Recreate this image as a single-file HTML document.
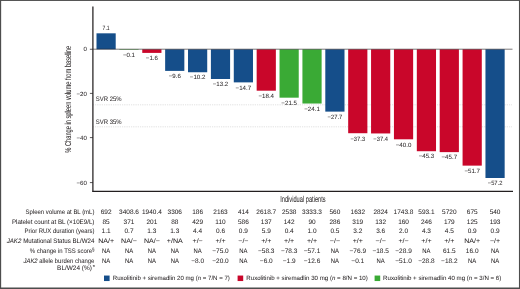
<!DOCTYPE html>
<html><head><meta charset="utf-8"><title>Figure</title>
<style>
html,body{margin:0;padding:0;background:#fff;}
body{width:520px;height:289px;overflow:hidden;font-family:"Liberation Sans",sans-serif;}
svg{display:block;position:absolute;left:0;top:0;will-change:transform;}
text{font-family:"Liberation Sans",sans-serif;fill:#231f20;stroke:#231f20;stroke-width:0.03px;text-rendering:geometricPrecision;}
</style></head><body>
<svg width="520" height="289" viewBox="0 0 520 289">
<rect x="0" y="0" width="520" height="289" fill="#fff"/>

<rect x="0" y="0" width="520" height="0.95" fill="#4d4d4d"/>
<rect x="0" y="0" width="1.15" height="289" fill="#4d4d4d"/>
<rect x="518.95" y="0" width="1.05" height="289" fill="#4d4d4d"/>
<rect x="0" y="287.5" width="520" height="1.5" fill="#4d4d4d"/>
<line x1="93.3" y1="104.80" x2="512.5" y2="104.80" stroke="#b8b8b8" stroke-width="0.6" stroke-dasharray="0.7 1.1"/>
<line x1="93.3" y1="126.80" x2="512.5" y2="126.80" stroke="#b8b8b8" stroke-width="0.6" stroke-dasharray="0.7 1.1"/>
<rect x="96.50" y="33.32" width="19.20" height="15.97" fill="#154e8a"/>
<rect x="119.38" y="49.30" width="19.20" height="0.45" fill="#3aaa35"/>
<rect x="142.26" y="49.30" width="19.20" height="3.60" fill="#c9062a"/>
<rect x="165.14" y="49.30" width="19.20" height="21.60" fill="#154e8a"/>
<rect x="188.02" y="49.30" width="19.20" height="22.95" fill="#154e8a"/>
<rect x="210.90" y="49.30" width="19.20" height="29.70" fill="#154e8a"/>
<rect x="233.78" y="49.30" width="19.20" height="33.07" fill="#154e8a"/>
<rect x="256.66" y="49.30" width="19.20" height="41.40" fill="#c9062a"/>
<rect x="279.54" y="49.30" width="19.20" height="48.38" fill="#3aaa35"/>
<rect x="302.42" y="49.30" width="19.20" height="54.23" fill="#3aaa35"/>
<rect x="325.30" y="49.30" width="19.20" height="62.32" fill="#154e8a"/>
<rect x="348.18" y="49.30" width="19.20" height="83.92" fill="#c9062a"/>
<rect x="371.06" y="49.30" width="19.20" height="84.15" fill="#c9062a"/>
<rect x="393.94" y="49.30" width="19.20" height="90.00" fill="#c9062a"/>
<rect x="416.82" y="49.30" width="19.20" height="101.92" fill="#c9062a"/>
<rect x="439.70" y="49.30" width="19.20" height="102.83" fill="#c9062a"/>
<rect x="462.58" y="49.30" width="19.20" height="116.33" fill="#c9062a"/>
<rect x="485.46" y="49.30" width="19.20" height="128.70" fill="#154e8a"/>
<line x1="92.9" y1="6.5" x2="92.9" y2="192" stroke="#231f20" stroke-width="1.25"/>
<line x1="92.5" y1="191.45" x2="513" y2="191.45" stroke="#231f20" stroke-width="1.25"/>
<line x1="92.9" y1="49.20" x2="512.5" y2="49.20" stroke="#231f20" stroke-width="0.6"/>
<line x1="89.9" y1="49.25" x2="92.9" y2="49.25" stroke="#231f20" stroke-width="0.75"/>
<line x1="89.9" y1="93.40" x2="92.9" y2="93.40" stroke="#231f20" stroke-width="0.75"/>
<line x1="89.9" y1="137.60" x2="92.9" y2="137.60" stroke="#231f20" stroke-width="0.75"/>
<line x1="89.9" y1="182.60" x2="92.9" y2="182.60" stroke="#231f20" stroke-width="0.75"/>
<rect x="104.00" y="275.55" width="5.6" height="5.5" fill="#154e8a"/>
<rect x="237.60" y="275.55" width="5.6" height="5.5" fill="#c9062a"/>
<rect x="374.60" y="275.55" width="5.6" height="5.5" fill="#3aaa35"/>
<g>
<text transform="translate(86.90 51.15) scale(1.0000 1)" font-size="6.10" text-anchor="end">0</text>
<text transform="translate(86.90 95.70) scale(1.0000 1)" font-size="6.10" text-anchor="end">−20</text>
<text transform="translate(86.90 139.90) scale(1.0000 1)" font-size="6.10" text-anchor="end">−40</text>
<text transform="translate(86.90 184.90) scale(1.0000 1)" font-size="6.10" text-anchor="end">−60</text>
<text transform="translate(106.10 30.22) scale(0.8200 1)" font-size="6.15" text-anchor="middle">7.1</text>
<text transform="translate(128.98 56.73) scale(1.0000 1)" font-size="6.15" text-anchor="middle">−0.1</text>
<text transform="translate(151.86 60.10) scale(1.0000 1)" font-size="6.15" text-anchor="middle">−1.6</text>
<text transform="translate(174.74 78.10) scale(1.0000 1)" font-size="6.15" text-anchor="middle">−9.6</text>
<text transform="translate(197.62 79.45) scale(1.0000 1)" font-size="6.15" text-anchor="middle">−10.2</text>
<text transform="translate(220.50 86.20) scale(1.0000 1)" font-size="6.15" text-anchor="middle">−13.2</text>
<text transform="translate(243.38 89.58) scale(1.0000 1)" font-size="6.15" text-anchor="middle">−14.7</text>
<text transform="translate(266.26 97.90) scale(1.0000 1)" font-size="6.15" text-anchor="middle">−18.4</text>
<text transform="translate(289.14 104.88) scale(1.0000 1)" font-size="6.15" text-anchor="middle">−21.5</text>
<text transform="translate(312.02 110.73) scale(1.0000 1)" font-size="6.15" text-anchor="middle">−24.1</text>
<text transform="translate(334.90 118.83) scale(0.9400 1)" font-size="6.15" text-anchor="middle">−27.7</text>
<text transform="translate(357.78 140.82) scale(0.9400 1)" font-size="6.15" text-anchor="middle">−37.3</text>
<text transform="translate(380.66 140.65) scale(0.9400 1)" font-size="6.15" text-anchor="middle">−37.4</text>
<text transform="translate(403.54 146.50) scale(1.0000 1)" font-size="6.15" text-anchor="middle">−40.0</text>
<text transform="translate(426.42 158.42) scale(1.0000 1)" font-size="6.15" text-anchor="middle">−45.3</text>
<text transform="translate(449.30 159.32) scale(1.0000 1)" font-size="6.15" text-anchor="middle">−45.7</text>
<text transform="translate(472.18 172.82) scale(1.0000 1)" font-size="6.15" text-anchor="middle">−51.7</text>
<text transform="translate(495.06 185.20) scale(0.9400 1)" font-size="6.15" text-anchor="middle">−57.2</text>
<text transform="translate(95.80 101.10) scale(0.9155 1)" font-size="6.50" text-anchor="start">SVR 25%</text>
<text transform="translate(95.80 123.80) scale(0.9155 1)" font-size="6.50" text-anchor="start">SVR 35%</text>
<text transform="translate(302.9 201.5) scale(0.661 1)" font-size="8.6" stroke="#231f20" stroke-width="0.34" text-anchor="middle">Individual patients</text>
<text transform="translate(70.8 99.3) rotate(-90) scale(0.664 1)" font-size="8.6" stroke="#231f20" stroke-width="0.34" text-anchor="middle">% Change in spleen volume from baseline</text>
<text transform="translate(94.40 213.65) scale(0.9185 1)" font-size="6.50" text-anchor="end">Spleen volume at BL (mL)</text>
<text transform="translate(106.10 213.65) scale(0.9985 1)" font-size="6.50" text-anchor="middle">692</text>
<text transform="translate(128.98 213.65) scale(0.9985 1)" font-size="6.50" text-anchor="middle">3408.6</text>
<text transform="translate(151.86 213.65) scale(0.9985 1)" font-size="6.50" text-anchor="middle">1940.4</text>
<text transform="translate(174.74 213.65) scale(0.9985 1)" font-size="6.50" text-anchor="middle">3306</text>
<text transform="translate(197.62 213.65) scale(0.9985 1)" font-size="6.50" text-anchor="middle">186</text>
<text transform="translate(220.50 213.65) scale(0.9985 1)" font-size="6.50" text-anchor="middle">2163</text>
<text transform="translate(243.38 213.65) scale(0.9985 1)" font-size="6.50" text-anchor="middle">414</text>
<text transform="translate(266.26 213.65) scale(0.9985 1)" font-size="6.50" text-anchor="middle">2618.7</text>
<text transform="translate(289.14 213.65) scale(0.9985 1)" font-size="6.50" text-anchor="middle">2538</text>
<text transform="translate(312.02 213.65) scale(0.9985 1)" font-size="6.50" text-anchor="middle">3333.3</text>
<text transform="translate(334.90 213.65) scale(0.9985 1)" font-size="6.50" text-anchor="middle">560</text>
<text transform="translate(357.78 213.65) scale(0.9985 1)" font-size="6.50" text-anchor="middle">1632</text>
<text transform="translate(380.66 213.65) scale(0.9985 1)" font-size="6.50" text-anchor="middle">2824</text>
<text transform="translate(403.54 213.65) scale(0.9985 1)" font-size="6.50" text-anchor="middle">1743.8</text>
<text transform="translate(426.42 213.65) scale(0.9985 1)" font-size="6.50" text-anchor="middle">593.1</text>
<text transform="translate(449.30 213.65) scale(0.9985 1)" font-size="6.50" text-anchor="middle">5720</text>
<text transform="translate(472.18 213.65) scale(0.9985 1)" font-size="6.50" text-anchor="middle">675</text>
<text transform="translate(495.06 213.65) scale(0.9985 1)" font-size="6.50" text-anchor="middle">540</text>
<text transform="translate(94.40 223.55) scale(0.9520 1)" font-size="6.50" text-anchor="end">Platelet count at BL (×10E9/L)</text>
<text transform="translate(106.10 223.55) scale(0.9985 1)" font-size="6.50" text-anchor="middle">85</text>
<text transform="translate(128.98 223.55) scale(0.9985 1)" font-size="6.50" text-anchor="middle">371</text>
<text transform="translate(151.86 223.55) scale(0.9985 1)" font-size="6.50" text-anchor="middle">201</text>
<text transform="translate(174.74 223.55) scale(0.9985 1)" font-size="6.50" text-anchor="middle">88</text>
<text transform="translate(197.62 223.55) scale(0.9985 1)" font-size="6.50" text-anchor="middle">429</text>
<text transform="translate(220.50 223.55) scale(0.9985 1)" font-size="6.50" text-anchor="middle">110</text>
<text transform="translate(243.38 223.55) scale(0.9985 1)" font-size="6.50" text-anchor="middle">586</text>
<text transform="translate(266.26 223.55) scale(0.9985 1)" font-size="6.50" text-anchor="middle">137</text>
<text transform="translate(289.14 223.55) scale(0.9985 1)" font-size="6.50" text-anchor="middle">142</text>
<text transform="translate(312.02 223.55) scale(0.9985 1)" font-size="6.50" text-anchor="middle">90</text>
<text transform="translate(334.90 223.55) scale(0.9985 1)" font-size="6.50" text-anchor="middle">286</text>
<text transform="translate(357.78 223.55) scale(0.9985 1)" font-size="6.50" text-anchor="middle">319</text>
<text transform="translate(380.66 223.55) scale(0.9985 1)" font-size="6.50" text-anchor="middle">132</text>
<text transform="translate(403.54 223.55) scale(0.9985 1)" font-size="6.50" text-anchor="middle">160</text>
<text transform="translate(426.42 223.55) scale(0.9985 1)" font-size="6.50" text-anchor="middle">246</text>
<text transform="translate(449.30 223.55) scale(0.9985 1)" font-size="6.50" text-anchor="middle">179</text>
<text transform="translate(472.18 223.55) scale(0.9985 1)" font-size="6.50" text-anchor="middle">125</text>
<text transform="translate(495.06 223.55) scale(0.9985 1)" font-size="6.50" text-anchor="middle">193</text>
<text transform="translate(94.40 233.40) scale(0.9115 1)" font-size="6.50" text-anchor="end">Prior RUX duration (years)</text>
<text transform="translate(106.10 233.40) scale(0.9985 1)" font-size="6.50" text-anchor="middle">1.1</text>
<text transform="translate(128.98 233.40) scale(0.9985 1)" font-size="6.50" text-anchor="middle">0.7</text>
<text transform="translate(151.86 233.40) scale(0.9985 1)" font-size="6.50" text-anchor="middle">1.3</text>
<text transform="translate(174.74 233.40) scale(0.9985 1)" font-size="6.50" text-anchor="middle">1.3</text>
<text transform="translate(197.62 233.40) scale(0.9985 1)" font-size="6.50" text-anchor="middle">4.4</text>
<text transform="translate(220.50 233.40) scale(0.9985 1)" font-size="6.50" text-anchor="middle">0.6</text>
<text transform="translate(243.38 233.40) scale(0.9985 1)" font-size="6.50" text-anchor="middle">0.9</text>
<text transform="translate(266.26 233.40) scale(0.9985 1)" font-size="6.50" text-anchor="middle">5.9</text>
<text transform="translate(289.14 233.40) scale(0.9985 1)" font-size="6.50" text-anchor="middle">0.4</text>
<text transform="translate(312.02 233.40) scale(0.9985 1)" font-size="6.50" text-anchor="middle">1.0</text>
<text transform="translate(334.90 233.40) scale(0.9985 1)" font-size="6.50" text-anchor="middle">0.5</text>
<text transform="translate(357.78 233.40) scale(0.9985 1)" font-size="6.50" text-anchor="middle">3.2</text>
<text transform="translate(380.66 233.40) scale(0.9985 1)" font-size="6.50" text-anchor="middle">3.6</text>
<text transform="translate(403.54 233.40) scale(0.9985 1)" font-size="6.50" text-anchor="middle">2.0</text>
<text transform="translate(426.42 233.40) scale(0.9985 1)" font-size="6.50" text-anchor="middle">4.3</text>
<text transform="translate(449.30 233.40) scale(0.9985 1)" font-size="6.50" text-anchor="middle">4.5</text>
<text transform="translate(472.18 233.40) scale(0.9985 1)" font-size="6.50" text-anchor="middle">0.9</text>
<text transform="translate(495.06 233.40) scale(0.9985 1)" font-size="6.50" text-anchor="middle">0.9</text>
<text transform="translate(94.40 243.30) scale(0.9482 1)" font-size="6.50" text-anchor="end"><tspan font-style="italic">JAK2</tspan> Mutational Status BL/W24</text>
<text transform="translate(106.10 243.30) scale(1.0892 1)" font-size="6.50" text-anchor="middle">NA/+</text>
<text transform="translate(128.98 243.30) scale(1.0892 1)" font-size="6.50" text-anchor="middle">NA/−</text>
<text transform="translate(151.86 243.30) scale(1.0892 1)" font-size="6.50" text-anchor="middle">NA/−</text>
<text transform="translate(174.74 243.30) scale(1.0892 1)" font-size="6.50" text-anchor="middle">+/NA</text>
<text transform="translate(197.62 243.30) scale(1.0892 1)" font-size="6.50" text-anchor="middle">+/−</text>
<text transform="translate(220.50 243.30) scale(1.0892 1)" font-size="6.50" text-anchor="middle">+/+</text>
<text transform="translate(243.38 243.30) scale(1.0892 1)" font-size="6.50" text-anchor="middle">−/−</text>
<text transform="translate(266.26 243.30) scale(1.0892 1)" font-size="6.50" text-anchor="middle">+/+</text>
<text transform="translate(289.14 243.30) scale(1.0892 1)" font-size="6.50" text-anchor="middle">+/+</text>
<text transform="translate(312.02 243.30) scale(1.0892 1)" font-size="6.50" text-anchor="middle">+/+</text>
<text transform="translate(334.90 243.30) scale(1.0892 1)" font-size="6.50" text-anchor="middle">−/−</text>
<text transform="translate(357.78 243.30) scale(1.0892 1)" font-size="6.50" text-anchor="middle">+/+</text>
<text transform="translate(380.66 243.30) scale(1.0892 1)" font-size="6.50" text-anchor="middle">−/−</text>
<text transform="translate(403.54 243.30) scale(1.0892 1)" font-size="6.50" text-anchor="middle">+/−</text>
<text transform="translate(426.42 243.30) scale(1.0892 1)" font-size="6.50" text-anchor="middle">+/+</text>
<text transform="translate(449.30 243.30) scale(1.0892 1)" font-size="6.50" text-anchor="middle">+/+</text>
<text transform="translate(472.18 243.30) scale(1.0892 1)" font-size="6.50" text-anchor="middle">NA/+</text>
<text transform="translate(495.06 243.30) scale(1.0892 1)" font-size="6.50" text-anchor="middle">−/+</text>
<text transform="translate(92.10 253.30) scale(0.9188 1)" font-size="6.50" text-anchor="end">% change in TSS score</text>
<text transform="translate(106.10 253.30) scale(0.9077 1)" font-size="6.50" text-anchor="middle">NA</text>
<text transform="translate(128.98 253.30) scale(0.9077 1)" font-size="6.50" text-anchor="middle">NA</text>
<text transform="translate(151.86 253.30) scale(0.9077 1)" font-size="6.50" text-anchor="middle">NA</text>
<text transform="translate(174.74 253.30) scale(0.9077 1)" font-size="6.50" text-anchor="middle">NA</text>
<text transform="translate(197.62 253.30) scale(0.9077 1)" font-size="6.50" text-anchor="middle">NA</text>
<text transform="translate(220.50 253.30) scale(0.9985 1)" font-size="6.50" text-anchor="middle">−75.0</text>
<text transform="translate(243.38 253.30) scale(0.9077 1)" font-size="6.50" text-anchor="middle">NA</text>
<text transform="translate(266.26 253.30) scale(0.9985 1)" font-size="6.50" text-anchor="middle">−58.3</text>
<text transform="translate(289.14 253.30) scale(0.9985 1)" font-size="6.50" text-anchor="middle">−78.3</text>
<text transform="translate(312.02 253.30) scale(0.9985 1)" font-size="6.50" text-anchor="middle">−57.1</text>
<text transform="translate(334.90 253.30) scale(0.9077 1)" font-size="6.50" text-anchor="middle">NA</text>
<text transform="translate(357.78 253.30) scale(0.9985 1)" font-size="6.50" text-anchor="middle">−76.9</text>
<text transform="translate(380.66 253.30) scale(0.9985 1)" font-size="6.50" text-anchor="middle">−18.5</text>
<text transform="translate(403.54 253.30) scale(0.9985 1)" font-size="6.50" text-anchor="middle">−28.9</text>
<text transform="translate(426.42 253.30) scale(0.9077 1)" font-size="6.50" text-anchor="middle">NA</text>
<text transform="translate(449.30 253.30) scale(0.9985 1)" font-size="6.50" text-anchor="middle">61.5</text>
<text transform="translate(472.18 253.30) scale(0.9985 1)" font-size="6.50" text-anchor="middle">16.0</text>
<text transform="translate(495.06 253.30) scale(0.9077 1)" font-size="6.50" text-anchor="middle">NA</text>
<text transform="translate(94.40 262.70) scale(0.9125 1)" font-size="6.50" text-anchor="end"><tspan font-style="italic">JAK2</tspan> allele burden change</text>
<text transform="translate(106.10 262.70) scale(0.9077 1)" font-size="6.50" text-anchor="middle">NA</text>
<text transform="translate(128.98 262.70) scale(0.9077 1)" font-size="6.50" text-anchor="middle">NA</text>
<text transform="translate(151.86 262.70) scale(0.9077 1)" font-size="6.50" text-anchor="middle">NA</text>
<text transform="translate(174.74 262.70) scale(0.9077 1)" font-size="6.50" text-anchor="middle">NA</text>
<text transform="translate(197.62 262.70) scale(0.9985 1)" font-size="6.50" text-anchor="middle">−8.0</text>
<text transform="translate(220.50 262.70) scale(0.9985 1)" font-size="6.50" text-anchor="middle">−20.0</text>
<text transform="translate(243.38 262.70) scale(0.9077 1)" font-size="6.50" text-anchor="middle">NA</text>
<text transform="translate(266.26 262.70) scale(0.9985 1)" font-size="6.50" text-anchor="middle">−6.0</text>
<text transform="translate(289.14 262.70) scale(0.9985 1)" font-size="6.50" text-anchor="middle">−1.9</text>
<text transform="translate(312.02 262.70) scale(0.9985 1)" font-size="6.50" text-anchor="middle">−12.6</text>
<text transform="translate(334.90 262.70) scale(0.9077 1)" font-size="6.50" text-anchor="middle">NA</text>
<text transform="translate(357.78 262.70) scale(0.9985 1)" font-size="6.50" text-anchor="middle">−0.1</text>
<text transform="translate(380.66 262.70) scale(0.9077 1)" font-size="6.50" text-anchor="middle">NA</text>
<text transform="translate(403.54 262.70) scale(0.9985 1)" font-size="6.50" text-anchor="middle">−51.0</text>
<text transform="translate(426.42 262.70) scale(0.9985 1)" font-size="6.50" text-anchor="middle">−28.8</text>
<text transform="translate(449.30 262.70) scale(0.9985 1)" font-size="6.50" text-anchor="middle">−18.2</text>
<text transform="translate(472.18 262.70) scale(0.9077 1)" font-size="6.50" text-anchor="middle">NA</text>
<text transform="translate(495.06 262.70) scale(0.9077 1)" font-size="6.50" text-anchor="middle">NA</text>
<text transform="translate(91.90 270.30) scale(0.9932 1)" font-size="6.50" text-anchor="end">BL/W24 (%)</text>
<text transform="translate(92.10 251.10) scale(1.0000 1)" font-size="4.60" text-anchor="start" stroke-width="0.15">§</text>
<text transform="translate(92.70 269.10) scale(1.0000 1)" font-size="5.80" text-anchor="start" stroke-width="0.15">*</text>
<text transform="translate(112.80 280.35) scale(0.9815 1)" font-size="6.20" text-anchor="start" stroke-width="0.04">Ruxolitinib + siremadlin 20 mg (<tspan font-style="italic">n</tspan> = 7/N = 7)</text>
<text transform="translate(246.30 280.35) scale(0.9906 1)" font-size="6.20" text-anchor="start" stroke-width="0.04">Ruxolitinib + siremadlin 30 mg (<tspan font-style="italic">n</tspan> = 8/N = 10)</text>
<text transform="translate(383.10 280.35) scale(0.9916 1)" font-size="6.20" text-anchor="start" stroke-width="0.04">Ruxolitinib + siremadlin 40 mg (<tspan font-style="italic">n</tspan> = 3/N = 6)</text>
</g>
</svg></body></html>
